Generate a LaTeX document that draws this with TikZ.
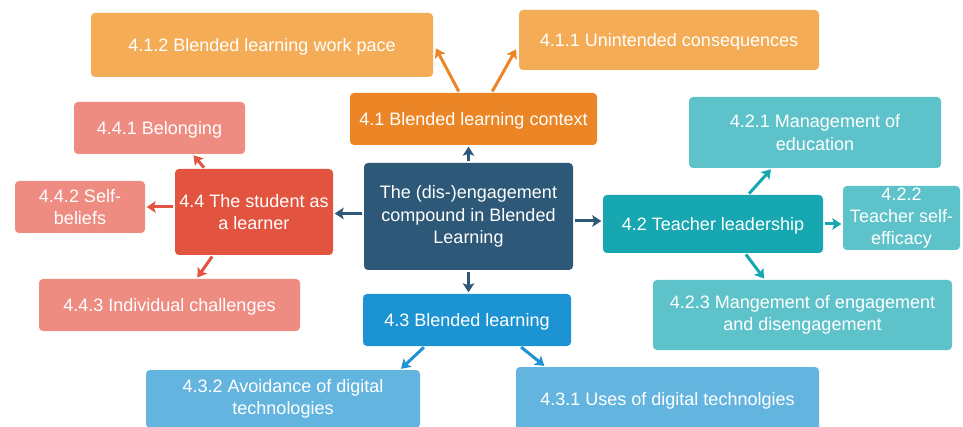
\documentclass[tikz,border=0pt]{standalone}
\usepackage{fontspec}
\setmainfont{Liberation Sans}
\usetikzlibrary{arrows.meta}
\definecolor{orL}{HTML}{F4AC57}
\definecolor{orD}{HTML}{EC8525}
\definecolor{rdL}{HTML}{EE8C82}
\definecolor{rdD}{HTML}{E35440}
\definecolor{navy}{HTML}{2D5878}
\definecolor{blD}{HTML}{1C93D2}
\definecolor{blL}{HTML}{63B5E0}
\definecolor{tlL}{HTML}{5DC2CA}
\definecolor{tlD}{HTML}{17A7B1}
\tikzset{
  box/.style={rectangle, rounded corners=4pt, text=white, align=center, inner sep=0pt,
    font=\fontsize{18}{22.5}\selectfont},
  one/.style={text depth=0pt},
  conn/.style={line width=3pt, -{Stealth[length=9pt,width=11.5pt,inset=2pt]}, shorten >=1.5pt, shorten <=1.5pt}
}
\begin{document}
\begin{tikzpicture}[x=1pt,y=-1pt]
\useasboundingbox (0,0) rectangle (963,427);
\fill[white] (0,0) rectangle (963,427);
% nodes
\node[box, one, fill=orL, minimum width=342pt, minimum height=64pt] (n412) at (262,45) {4.1.2 Blended learning work pace};
\node[box, one, fill=orL, minimum width=300pt, minimum height=60pt] (n411) at (669,40) {4.1.1 Unintended consequences};
\node[box, one, fill=orD, minimum width=247pt, minimum height=52pt] (n41) at (473.5,119) {4.1 Blended learning context};
\node[box, one, fill=rdL, minimum width=171pt, minimum height=52pt] (n441) at (159.5,128) {4.4.1 Belonging};
\node[box, fill=rdL, minimum width=130pt, minimum height=52pt, font=\fontsize{18}{22}\selectfont] (n442) at (80,207) {4.4.2 Self-\\beliefs};
\node[box, fill=rdD, minimum width=158pt, minimum height=86pt] (n44) at (254,212) {4.4 The student as\\a learner};
\node[box, fill=navy, minimum width=209pt, minimum height=107pt] (c) at (468.5,216.5) {The (dis-)engagement\\compound in Blended\\Learning};
\node[box, one, fill=rdL, minimum width=261pt, minimum height=52pt] (n443) at (169.5,305) {4.4.3 Individual challenges};
\node[box, one, fill=blD, minimum width=208pt, minimum height=52pt] (n43) at (467,320) {4.3 Blended learning};
\node[box, fill=blL, minimum width=274pt, minimum height=58pt] (n432) at (283,399) {4.3.2 Avoidance of digital\\technologies};
\node[box, one, fill=blL, minimum width=303pt, minimum height=64pt] (n431) at (667.5,399) {4.3.1 Uses of digital technolgies};
\node[box, fill=tlL, minimum width=252pt, minimum height=71pt] (n421) at (815,132.5) {4.2.1 Management of\\education};
\node[box, fill=tlL, minimum width=117pt, minimum height=64pt, font=\fontsize{18}{22}\selectfont] (n422) at (901.5,218) {4.2.2\\Teacher self-\\efficacy};
\node[box, one, fill=tlD, minimum width=220pt, minimum height=58pt] (n42) at (713,224) {4.2 Teacher leadership};
\node[box, fill=tlL, minimum width=299pt, minimum height=70pt] (n423) at (802.5,315) {4.2.3 Mangement of engagement\\and disengagement};
% connectors
\draw[conn, orD] ([xshift=-14pt]n41.north) -- ([xshift=2pt,yshift=-2pt]n412.east);
\draw[conn, orD] ([xshift=18pt]n41.north) -- ([xshift=-2pt,yshift=-8pt]n411.west);
\draw[conn, navy] (c.north) -- (c.north |- n41.south);
\draw[conn, navy] ([yshift=3pt]c.west) -- ([yshift=3pt]c.west -| n44.east);
\draw[conn, navy] (c.south) -- (c.south |- n43.north);
\draw[conn, navy] ([yshift=-4.5pt]c.east) -- ([yshift=3pt]n42.west);
\draw[conn, rdD] ([xshift=-49pt]n44.north) -- ([xshift=33pt]n441.south);
\draw[conn, rdD] (n44.west |- n442.east) -- (n442.east);
\draw[conn, rdD] ([xshift=-41pt]n44.south) -- ([xshift=27pt]n443.north);
\draw[conn, blD] ([xshift=-42pt]n43.south) -- ([xshift=117pt]n432.north);
\draw[conn, blD] ([xshift=53pt]n43.south) -- ([xshift=-122pt]n431.north);
\draw[conn, tlD] ([xshift=35pt]n42.north) -- ([xshift=-43pt]n421.south);
\draw[conn, tlD] (n42.east) -- (n42.east -| n422.west);
\draw[conn, tlD] ([xshift=32pt]n42.south) -- ([xshift=-37.5pt]n423.north);
\end{tikzpicture}
\end{document}
